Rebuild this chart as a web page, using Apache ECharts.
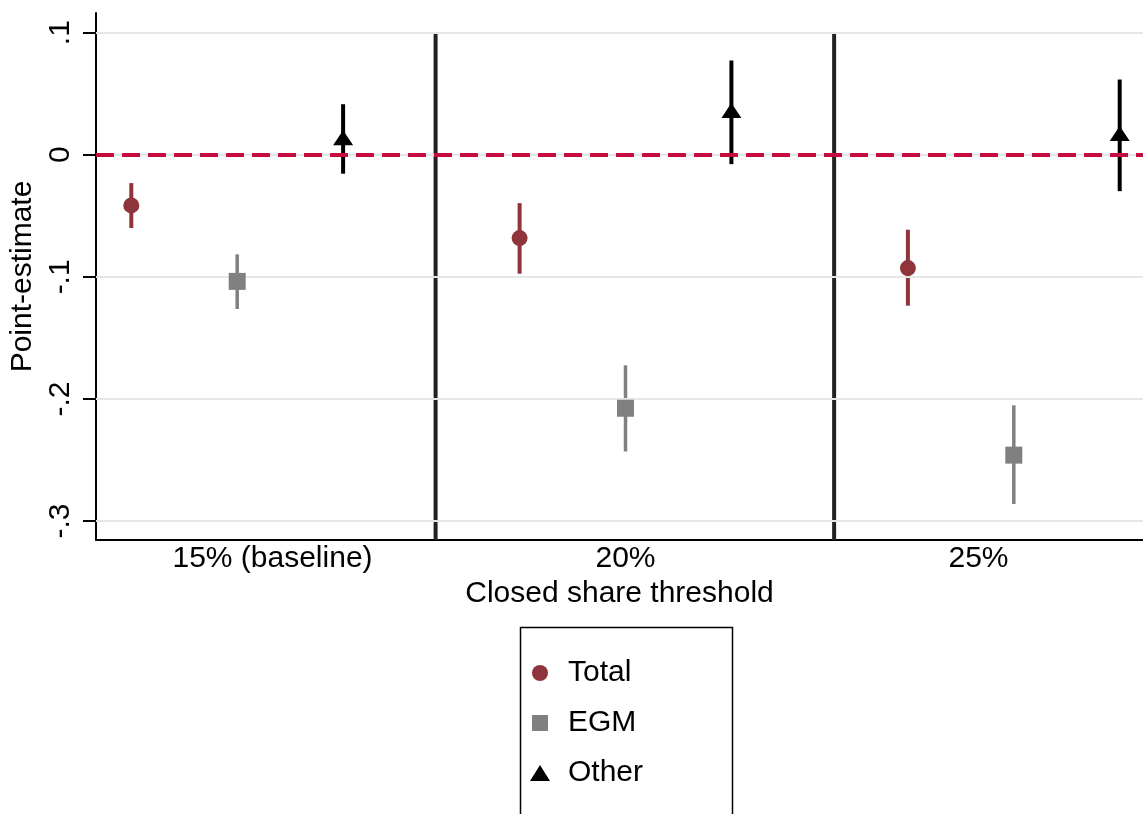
<!DOCTYPE html>
<html>
<head>
<meta charset="utf-8">
<script src="https://cdn.jsdelivr.net/npm/echarts@6/dist/echarts.min.js"></script>
<style>
html,body{margin:0;padding:0;background:#fff;}
#chart{width:1143px;height:814px;}
</style>
</head>
<body>
<div id="chart"></div>
<script>
// ---- data ----
const categories = ['15% (baseline)', '20%', '25%'];
const categoryPos = [1, 2, 3];
const seriesNames = ['Total', 'EGM', 'Other'];

const totalX   = [0.6, 1.7, 2.8];
const totalEst = [-0.0415, -0.0682, -0.0928];
const totalLo  = [-0.0600, -0.0974, -0.1236];
const totalHi  = [-0.0232, -0.0396, -0.0614];

const egmX   = [0.9, 2.0, 3.1];
const egmEst = [-0.1037, -0.2076, -0.2460];
const egmLo  = [-0.1263, -0.2430, -0.2860];
const egmHi  = [-0.0816, -0.1724, -0.2052];

const otherX   = [1.2, 2.3, 3.4];
const otherEst = [0.0140, 0.0362, 0.0174];
const otherLo  = [-0.0155, -0.0077, -0.0298];
const otherHi  = [0.0414, 0.0772, 0.0616];

const separatorX = [1.462, 2.591];
const separatorTop = 0.1;

const yTicks = [-0.3, -0.2, -0.1, 0, 0.1];
const yTickLabels = ['-.3', '-.2', '-.1', '0', '.1'];
const yMin = -0.3155, yMax = 0.1161;
const xMin = 0.5, xMax = 3.466;

// ---- chart ----
const FONT = "'Liberation Sans', Arial, sans-serif";
const FS = 30;
const colors = { Total: '#8E343A', EGM: '#808080', Other: '#000000' };

function pts(xs, ys) { return xs.map((x, i) => [x, ys[i]]); }
function bars(xs, lo, hi) { return xs.map((x, i) => [x, lo[i], hi[i]]); }

function ciSeries(name, data, color, width) {
  return {
    type: 'custom', name: name + ' CI', z: 3,
    data: data,
    encode: { x: 0, y: [1, 2] },
    renderItem: function (params, api) {
      const p1 = api.coord([api.value(0), api.value(1)]);
      const p2 = api.coord([api.value(0), api.value(2)]);
      return { type: 'line', shape: { x1: p1[0], y1: p1[1], x2: p2[0], y2: p2[1] },
               style: { stroke: color, lineWidth: width } };
    },
    silent: true
  };
}

const chart = echarts.init(document.getElementById('chart'), null, { renderer: 'canvas' });
const option = {
  animation: false,
  backgroundColor: '#fff',
  textStyle: { fontFamily: FONT },
  grid: { left: 96, top: 13, right: 0, bottom: 274, containLabel: false },
  xAxis: {
    type: 'value', min: xMin, max: xMax,
    axisLine: { show: true, onZero: false, lineStyle: { color: '#000', width: 2 } },
    axisTick: { show: false },
    axisLabel: {
      customValues: categoryPos, fontSize: FS, color: '#000', fontFamily: FONT, margin: 4,
      formatter: function (v) {
        const i = categoryPos.findIndex(t => Math.abs(t - v) < 1e-9);
        return i >= 0 ? categories[i] : '';
      }
    },
    splitLine: { show: false },
    name: 'Closed share threshold', nameLocation: 'middle', nameGap: 35,
    nameTextStyle: { fontSize: FS, color: '#000', fontFamily: FONT }
  },
  yAxis: {
    type: 'value', min: yMin, max: yMax,
    axisLine: { show: true, onZero: false, lineStyle: { color: '#000', width: 2 } },
    axisTick: { show: true, length: 13, lineStyle: { color: '#000', width: 2 }, customValues: yTicks },
    axisLabel: {
      customValues: yTicks, rotate: 90, fontSize: FS, color: '#000', fontFamily: FONT, margin: 20,
      formatter: function (v) {
        const i = yTicks.findIndex(t => Math.abs(t - v) < 1e-9);
        return i >= 0 ? yTickLabels[i] : '';
      }
    },
    splitLine: { show: false },
    name: 'Point-estimate', nameLocation: 'middle', nameGap: 50, nameRotate: 90,
    nameTextStyle: { fontSize: FS, color: '#000', fontFamily: FONT }
  },
  legend: {
    orient: 'vertical', left: 520, top: 627,
    data: [
      { name: 'Total', icon: 'circle' },
      { name: 'EGM', icon: 'path://M0,0L1,0L1,1L0,1Z' },
      { name: 'Other', icon: 'triangle' }
    ],
    symbolKeepAspect: true,
    itemWidth: 20, itemHeight: 16, itemGap: 20,
    padding: [31, 10, 0, 10],
    textStyle: { fontSize: FS, color: '#000', fontFamily: FONT, padding: [0, 0, 0, 13] },
    selectedMode: false
  },
  graphic: [
    {
      type: 'rect', left: 518, top: 625, silent: true,
      shape: { width: 212, height: 260 },
      style: { fill: 'none', stroke: '#000', lineWidth: 1.5 }
    }
  ],
  series: [
    {
      type: 'scatter', name: 'grid', data: [], z: 1, silent: true,
      markLine: {
        silent: true, symbol: ['none', 'none'], label: { show: false },
        lineStyle: { color: '#e6e6e6', width: 2, type: 'solid' },
        data: yTicks.map(v => ({ yAxis: v }))
      }
    },
    {
      type: 'custom', name: 'separators', z: 2, silent: true,
      data: separatorX.map(x => [x, separatorTop]),
      renderItem: function (params, api) {
        const p1 = api.coord([api.value(0), api.value(1)]);
        const p2 = api.coord([api.value(0), yMin]);
        return { type: 'line', shape: { x1: p1[0], y1: p1[1], x2: p2[0], y2: p2[1] },
                 style: { stroke: '#222', lineWidth: 4 } };
      }
    },
    {
      type: 'scatter', name: 'zero', data: [], z: 2, silent: true,
      markLine: {
        silent: true, symbol: ['none', 'none'], label: { show: false },
        lineStyle: { color: '#C40C3E', width: 4, type: [18, 8] },
        data: [{ yAxis: 0 }]
      }
    },
    ciSeries('Total', bars(totalX, totalLo, totalHi), colors.Total, 4),
    ciSeries('EGM', bars(egmX, egmLo, egmHi), colors.EGM, 3.5),
    ciSeries('Other', bars(otherX, otherLo, otherHi), colors.Other, 4),
    {
      type: 'scatter', name: 'Total', z: 5, symbol: 'circle', symbolSize: 16,
      itemStyle: { color: colors.Total, opacity: 1 }, data: pts(totalX, totalEst)
    },
    {
      type: 'scatter', name: 'EGM', z: 5, symbol: 'rect', symbolSize: 17,
      itemStyle: { color: colors.EGM, opacity: 1 }, data: pts(egmX, egmEst)
    },
    {
      type: 'scatter', name: 'Other', z: 5, symbol: 'triangle', symbolSize: [20, 15],
      itemStyle: { color: colors.Other, opacity: 1 }, data: pts(otherX, otherEst)
    }
  ]
};
chart.setOption(option);
</script>
</body>
</html>
